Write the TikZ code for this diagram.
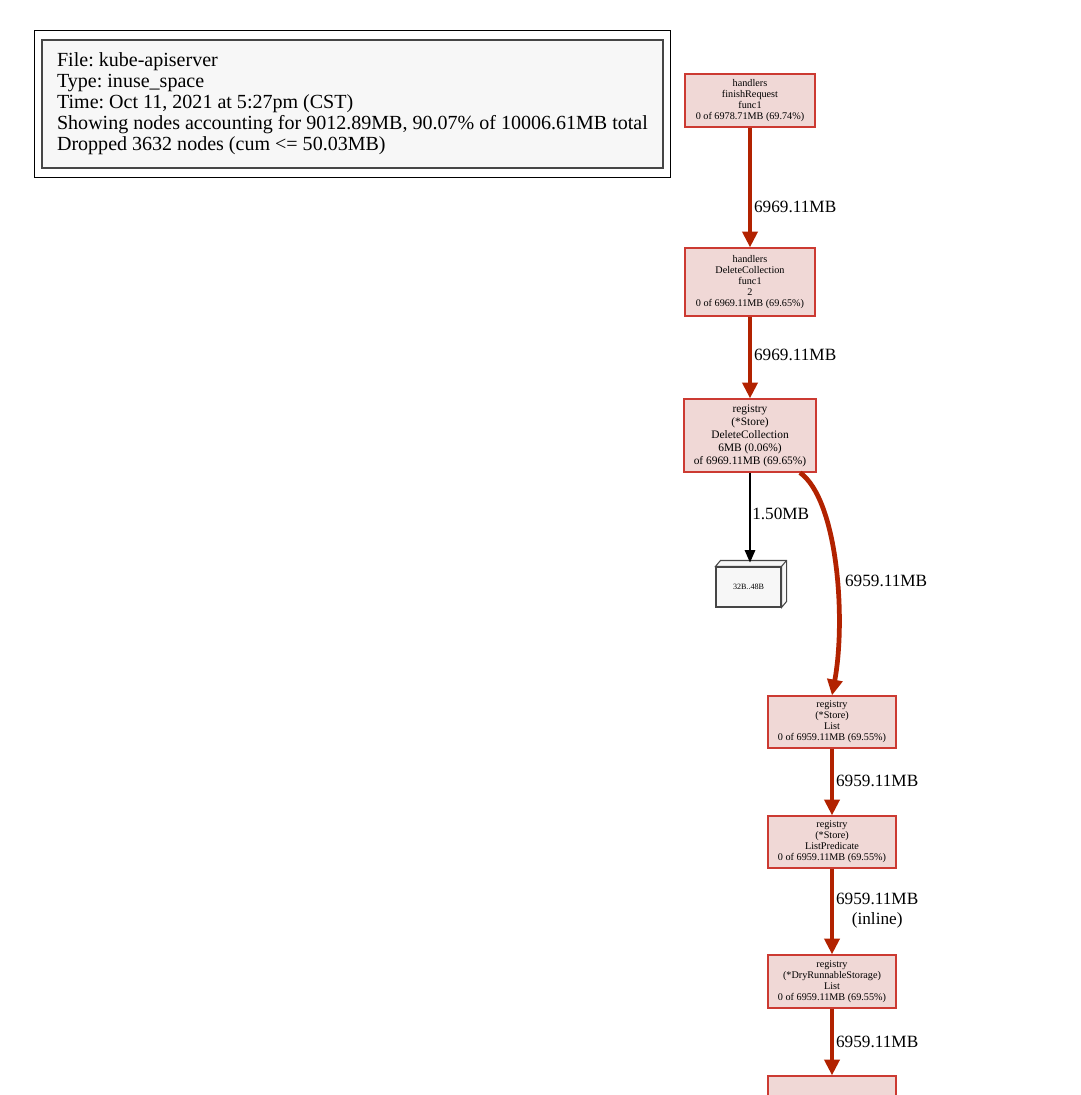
\documentclass[tikz,border=0pt]{standalone}
\usepackage{fontspec}
\setmainfont{Liberation Serif}
\usetikzlibrary{arrows.meta, positioning, calc, fit}
\definecolor{hotfill}{RGB}{240,216,214}
\definecolor{hotframe}{RGB}{204,58,50}
\definecolor{hotedge}{RGB}{178,34,0}
\definecolor{legendfill}{RGB}{247,247,247}
\definecolor{legendframe}{RGB}{70,70,70}
\tikzset{
  fn/.style={rectangle, draw=hotframe, fill=hotfill, line width=0.7pt,
    align=center, inner sep=1pt, font=\fontsize{5.8}{6.3}\selectfont},
  legend/.style={rectangle, draw=legendframe, fill=legendfill, line width=0.7pt,
    minimum width=12.42cm, minimum height=2.56cm, inner xsep=0.1cm,
    align=left, font=\fontsize{11.4}{12}\selectfont},
  hot/.style={-{Triangle[length=9pt,width=8.5pt]}, line width=2.7pt, color=hotedge},
  cold/.style={-{Triangle[length=7pt,width=6pt]}, line width=0.6pt, color=black},
  weight/.style={font=\fontsize{9.8}{11.5}\selectfont, text=black, inner sep=1pt, align=center}
}

\begin{document}
\frenchspacing
\begin{tikzpicture}[x=0.02cm, y=-0.02cm]
  \useasboundingbox (0,0) rectangle (1080,1095);
  \clip (0,0) rectangle (1080,1095);

  % header
  \node[legend] (legend) at (352.5,104) {File: kube-apiserver\\Type: inuse\_space\\Time: Oct 11, 2021 at 5:27pm (CST)\\Showing nodes accounting for 9012.89MB, 90.07\% of 10006.61MB total\\Dropped 3632 nodes (cum <= 50.03MB)};
  \node[draw, line width=0.7pt, fit=(legend), inner xsep=0.14cm, inner ysep=0.18cm] (frame) {};

  % call chain
  \node[fn, minimum width=2.6cm, minimum height=1.06cm] (finish) at (750,100.5) {handlers\\finishRequest\\func1\\0 of 6978.71MB (69.74\%)};
  \node[fn, minimum width=2.6cm, minimum height=1.36cm] (delfunc) at (750,282) {handlers\\DeleteCollection\\func1\\2\\0 of 6969.11MB (69.65\%)};
  \node[fn, minimum width=2.64cm, minimum height=1.46cm, font=\fontsize{6.5}{7.4}\selectfont] (delcoll) at (750,435.5) {registry\\(*Store)\\DeleteCollection\\6MB (0.06\%)\\of 6969.11MB (69.65\%)};
  \node[fn, minimum width=2.56cm, minimum height=1.04cm] (list) at (832,722) {registry\\(*Store)\\List\\0 of 6959.11MB (69.55\%)};
  \node[fn, minimum width=2.56cm, minimum height=1.04cm] (listpred) at (832,842) {registry\\(*Store)\\ListPredicate\\0 of 6959.11MB (69.55\%)};
  \node[fn, minimum width=2.56cm, minimum height=1.06cm] (dryrun) at (832,981.5) {registry\\(*DryRunnableStorage)\\List\\0 of 6959.11MB (69.55\%)};
  \node[fn, minimum width=2.56cm, minimum height=1.06cm] (next) at (832,1102.5) {};

  % 3d bucket box
  \node[draw=legendframe, line width=0.6pt, fill=legendfill, minimum width=1.3cm, minimum height=0.8cm,
    inner sep=0pt, font=\fontsize{4.6}{5}\selectfont] (bucket) at (748.5,587) {32B..48B};
  \draw[draw=legendframe, line width=0.6pt, fill=legendfill] (bucket.north west) -- ++(5,-6)
    -- ($(bucket.north east)+(5,-6)$) -- ($(bucket.south east)+(5,-6)$)
    -- (bucket.south east) -- (bucket.north east) -- cycle;
  \draw[draw=legendframe, line width=0.6pt] (bucket.north east) -- ++(5,-6);
  \coordinate (bucket top) at ($(delcoll.south |- bucket.north)+(0,-4)$);

  % edges
  \draw[hot] (finish) -- node[weight, anchor=west, pos=0.66] {6969.11MB} (delfunc);
  \draw[hot] (delfunc) -- node[weight, anchor=west, pos=0.47] {6969.11MB} (delcoll);
  \draw[cold] (delcoll.south) -- node[weight, anchor=west, pos=0.46] {1.50MB} (bucket top);
  \draw[hot] ([xshift=1cm]delcoll.south) .. controls (838,500) and (846,620) .. (list.north);
  \node[weight, anchor=west] (curvelabel) at (843,581) {6959.11MB};
  \draw[hot] (list) -- node[weight, anchor=west, pos=0.49] {6959.11MB} (listpred);
  \draw[hot] (listpred) -- node[weight, anchor=west, pos=0.49] {6959.11MB\\(inline)} (dryrun);
  \draw[hot] (dryrun) -- node[weight, anchor=west, pos=0.5] {6959.11MB} (next);
\end{tikzpicture}
\end{document}
